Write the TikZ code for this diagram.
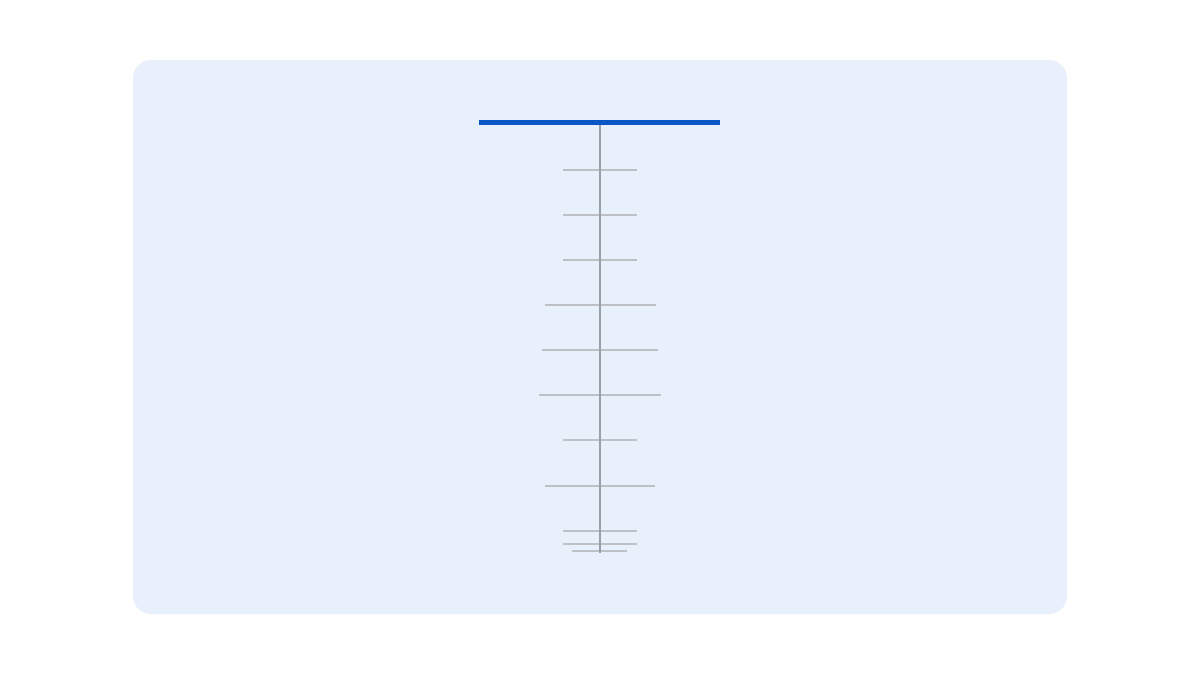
\documentclass[tikz,border=0pt]{standalone}
\definecolor{panel}{HTML}{E8F0FC}
\definecolor{barblue}{HTML}{0B57C6}
\definecolor{stem}{HTML}{9AA0A6}
\definecolor{tick}{HTML}{BDC1C6}
\tikzset{
  panelbox/.style={fill=panel, draw=none, rounded corners=18pt},
  topbar/.style={draw=barblue, line width=5pt},
  stemline/.style={draw=stem, line width=1.5pt},
  tickline/.style={draw=tick, line width=2pt},
}
\begin{document}
\begin{tikzpicture}[x=1pt,y=-1pt]
\useasboundingbox (0,0) rectangle (1200,675);
\fill[white] (0,0) rectangle (1200,675);
\path[panelbox] (133,60) rectangle (1067,614);
% ticks
\foreach \y/\a/\b in {170/563/637, 215/563/637, 260/563/637, 305/545/656, 350/542/658, 395/539/661, 440/563/637, 486/545/655, 531/563/637, 544/563/637, 551/572/627}{
  \draw[tickline] (\a,\y) -- (\b,\y);
}
\coordinate (top) at (600,122);
\coordinate (bottom) at (600,553);
\draw[stemline] (top) -- (bottom);
\coordinate (barL) at (479,122);
\coordinate (barR) at (720,122);
\draw[topbar] (barL) -- (barR);
\end{tikzpicture}
\end{document}
